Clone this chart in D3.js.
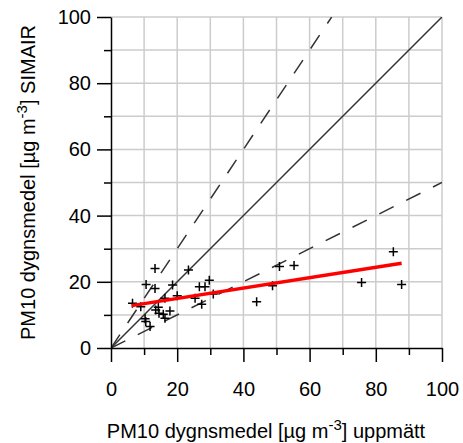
<!DOCTYPE html>
<html><head><meta charset="utf-8">
<script src="https://cdn.jsdelivr.net/npm/d3@7"></script>
<style>body{margin:0;background:#fff}svg{display:block}text{font-family:"Liberation Sans",Arial,sans-serif;}</style>
</head><body>
<svg id="c" width="463" height="443"></svg>
<script>
const measuredX = [6.5, 9.0, 10.6, 13.3, 13.3, 14.3, 13.5, 14.5, 15.8, 17.8, 16.3, 10.3, 10.5, 11.8, 18.6, 20.0, 16.3, 23.4, 26.7, 28.4, 29.7, 25.4, 27.4, 30.9, 44.0, 48.8, 50.9, 55.3, 75.7, 85.3, 87.8];
const modelY    = [13.5, 12.5, 19.2, 18.0, 24.0, 12.3, 11.5, 10.5, 10.2, 11.2, 9.0, 8.8, 8.0, 6.5, 19.0, 15.8, 15.0, 23.6, 18.5, 18.5, 20.5, 15.0, 13.2, 16.3, 14.0, 18.8, 24.6, 24.9, 19.8, 29.1, 19.2];
const refSlopes = [1, 1.5, 0.5];
const regX = [6.2, 87.8];
const regY = [12.8, 25.6];
const tickValues = [0, 20, 40, 60, 80, 100];
const minorTicks = [10, 30, 50, 70, 90];

const svg = d3.select("#c");
const L = 111, R = 442, T = 17, B = 348;
const FS = 20;
const x = d3.scaleLinear().domain([0, 100]).range([L, R]);
const y = d3.scaleLinear().domain([0, 100]).range([B, T]);

// grid
const grid = d3.range(10, 101, 10);
svg.append("g").selectAll("line.v").data(grid).join("line")
  .attr("x1", d => x(d)).attr("x2", d => x(d)).attr("y1", y(0)).attr("y2", y(100))
  .attr("stroke", "#cccccc").attr("stroke-width", 1.5);
svg.append("g").selectAll("line.h").data(grid).join("line")
  .attr("y1", d => y(d)).attr("y2", d => y(d)).attr("x1", x(0)).attr("x2", x(100))
  .attr("stroke", "#cccccc").attr("stroke-width", 1.5);

// reference lines
svg.append("clipPath").attr("id", "pc").append("rect")
  .attr("x", L).attr("y", T).attr("width", R - L).attr("height", B - T);
const gl = svg.append("g").attr("clip-path", "url(#pc)");
refSlopes.forEach(s => {
  gl.append("line")
    .attr("x1", x(0)).attr("y1", y(0))
    .attr("x2", x(Math.min(100, 100 / s))).attr("y2", y(Math.min(100, 100 * s)))
    .attr("stroke", "#333").attr("stroke-width", 1.5)
    .attr("stroke-dasharray", s === 1 ? null : "16,14");
});

// points
const pts = measuredX.map((d, i) => [d, modelY[i]]);
const h = 4.5;
const gp = svg.append("g").attr("stroke", "#000").attr("stroke-width", 1.5);
gp.selectAll("path").data(pts).join("path")
  .attr("d", d => `M${x(d[0]) - h},${y(d[1])}H${x(d[0]) + h}M${x(d[0])},${y(d[1]) - h}V${y(d[1]) + h}`);

// regression line
svg.append("line")
  .attr("x1", x(regX[0])).attr("y1", y(regY[0]))
  .attr("x2", x(regX[1])).attr("y2", y(regY[1]))
  .attr("stroke", "#ff0000").attr("stroke-width", 3.5);

// axes
svg.append("g").attr("transform", `translate(0,${B})`)
  .call(d3.axisBottom(x).tickValues(tickValues).tickSize(14).tickPadding(20).tickSizeOuter(0));
svg.append("g").attr("transform", `translate(0,${B})`)
  .call(d3.axisBottom(x).tickValues(minorTicks).tickSize(7).tickFormat("").tickSizeOuter(0))
  .select(".domain").remove();
svg.append("g").attr("transform", `translate(${L},0)`)
  .call(d3.axisLeft(y).tickValues(tickValues).tickSize(14).tickPadding(6).tickSizeOuter(0));
svg.append("g").attr("transform", `translate(${L},0)`)
  .call(d3.axisLeft(y).tickValues(minorTicks).tickSize(7).tickFormat("").tickSizeOuter(0))
  .select(".domain").remove();
svg.selectAll(".domain, .tick line").attr("stroke", "#000").attr("stroke-width", 1.5);
svg.selectAll(".tick text").attr("font-size", FS).attr("fill", "#000")
  .attr("font-family", '"Liberation Sans", Arial, sans-serif');

// titles
function title(g, tail) {
  const t = g.append("text").attr("font-size", FS).attr("text-anchor", "middle").attr("fill", "#000");
  t.append("tspan").text("PM10 dygnsmedel [µg m");
  t.append("tspan").attr("dy", -8).attr("font-size", 15).text("-3");
  t.append("tspan").attr("dy", 8).text("] " + tail);
  return t;
}
title(svg.append("g").attr("transform", `translate(266,438)`), "uppmätt");
title(svg.append("g").attr("transform", `translate(35,${(T + B) / 2}) rotate(-90)`), "SIMAIR");
</script>
</body></html>
